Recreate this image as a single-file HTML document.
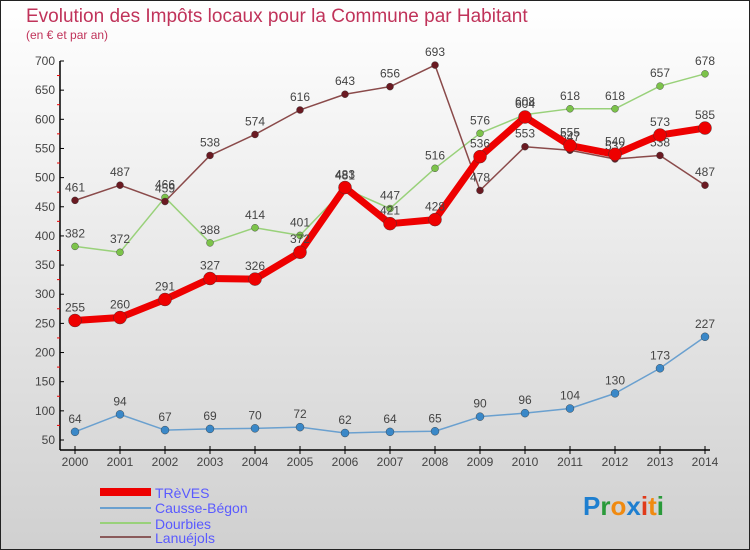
<!DOCTYPE html>
<html><head><meta charset="utf-8"><style>
body{margin:0}
#c{width:750px;height:550px;position:relative;overflow:hidden;font-family:"Liberation Sans",sans-serif}
</style></head><body>
<div id="c">
<svg id="s" width="750" height="550" xmlns="http://www.w3.org/2000/svg">
<defs><linearGradient id="bg" x1="0" y1="0" x2="0" y2="1"><stop offset="0" stop-color="#ffffff"/><stop offset="1" stop-color="#d0d0d0"/></linearGradient></defs>
<rect x="0.5" y="0.5" width="749" height="549" fill="url(#bg)" stroke="#222"/>
<text x="26" y="22" font-size="19" fill="#c0335a">Evolution des Impôts locaux pour la Commune par Habitant</text>
<text x="26" y="39" font-size="12" fill="#c0335a">(en € et par an)</text>
<g id="axes"></g><g id="series"></g>
<g>
<rect x="100" y="488" width="51" height="8" fill="#e00"/>
<text x="155" y="498" font-size="14" fill="#5a5aff">TRèVES</text>
<rect x="100" y="507" width="51" height="2" fill="#6aa0cf"/>
<text x="155" y="513" font-size="14" fill="#5a5aff">Causse-Bégon</text>
<rect x="100" y="522" width="51" height="2" fill="#99d17a"/>
<text x="155" y="529" font-size="14" fill="#5a5aff">Dourbies</text>
<rect x="100" y="536" width="51" height="2" fill="#8a5a5a"/>
<text x="155" y="543" font-size="14" fill="#5a5aff">Lanuéjols</text>
</g>
<text x="583" y="515" font-size="26" font-weight="bold"><tspan fill="#1e7fd0">P</tspan><tspan fill="#2a9a3a">r</tspan><tspan fill="#f08a10">o</tspan><tspan fill="#1e7fd0">x</tspan><tspan fill="#e03a1a">i</tspan><tspan fill="#f08a10">t</tspan><tspan fill="#2a9a3a">i</tspan></text>
</svg></div>
<script>
const years=[2000,2001,2002,2003,2004,2005,2006,2007,2008,2009,2010,2011,2012,2013,2014];
const yTicks=[50,100,150,200,250,300,350,400,450,500,550,600,650,700];
const treves=[255,260,291,327,326,372,483,421,428,536,604,555,540,573,585];
const causse=[64,94,67,69,70,72,62,64,65,90,96,104,130,173,227];
const dourbies=[382,372,466,388,414,401,481,447,516,576,608,618,618,657,678];
const lanuejols=[461,487,459,538,574,616,643,656,693,478,553,547,532,538,487];
const NS="http://www.w3.org/2000/svg";
const xS=i=>75+i*45;
const yS=v=>440-(v-50)*(379/650);
function mk(t,a,p){const e=document.createElementNS(NS,t);for(const k in a)e.setAttribute(k,a[k]);p.appendChild(e);return e;}
const ax=document.getElementById('axes');
const yl=mk('line',{x1:60,y1:61,x2:60,y2:450,stroke:'#000','stroke-width':1.5},ax);


const xl=mk('line',{x1:60,y1:450,x2:710,y2:450,stroke:'#000','stroke-width':1.5},ax);


yTicks.forEach(v=>{
 const y=yS(v);
 mk('line',{x1:60,y1:y,x2:64,y2:y,stroke:'#000'},ax);
 if(v<700)mk('line',{x1:57,y1:y-14.6,x2:60,y2:y-14.6,stroke:'#e00'},ax);
 const t=mk('text',{x:55,y:y+4,'font-size':12,fill:'#444','text-anchor':'end'},ax);t.textContent=v;
 
 
});
years.forEach((yr,i)=>{
 const x=xS(i);
 mk('line',{x1:x,y1:446,x2:x,y2:454,stroke:'#000'},ax);
 const t=mk('text',{x:x,y:466,'font-size':12,fill:'#444','text-anchor':'middle'},ax);t.textContent=yr;
 
 
});
const sg=document.getElementById('series');
function draw(vals,col,dot,w,r,name){
 const g=mk('g',{},sg);
 
 
 mk('polyline',{points:vals.map((v,i)=>xS(i)+','+yS(v)).join(' '),fill:'none',stroke:col,'stroke-width':w,'stroke-linejoin':'round'},g);
 vals.forEach((v,i)=>{
  const c=mk('circle',{cx:xS(i),cy:yS(v),r:r,fill:dot,stroke:'#333','stroke-width':0.4},g);
  
  
  const t=mk('text',{x:xS(i),y:yS(v)-9,'font-size':12,fill:'#444','text-anchor':'middle'},g);t.textContent=v;
  
  
 });
}
draw(causse,'#6aa0cf','#3a88c8',1.5,4,'series-causse-begon');
draw(dourbies,'#99d17a','#7cc34a',1.5,3.5,'series-dourbies');
draw(lanuejols,'#8a4a4a','#6a1a22',1.5,3.5,'series-lanuejols');
draw(treves,'#ee0000','#ee0000',7,6.5,'series-treves');
</script>
</body></html>
